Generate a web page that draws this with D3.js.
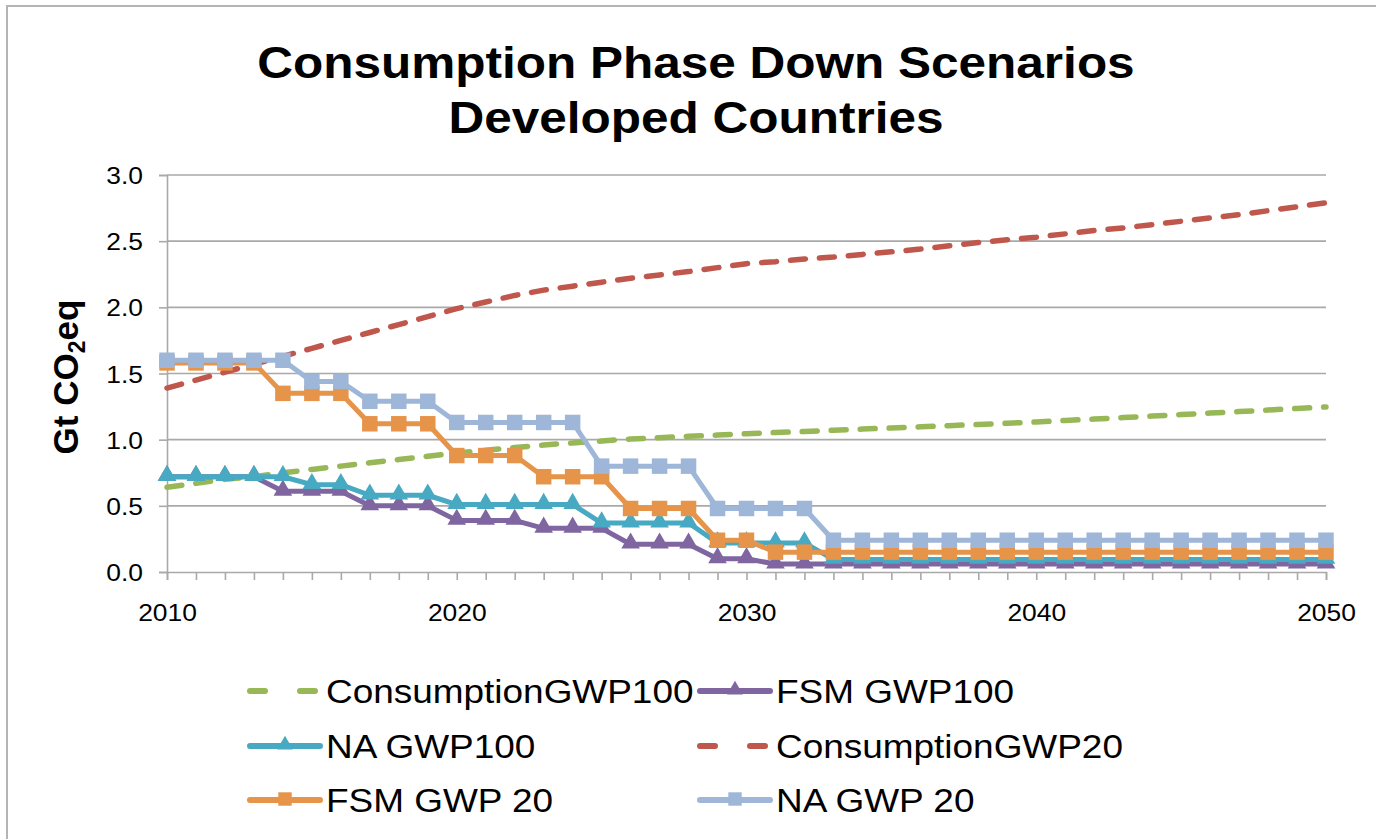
<!DOCTYPE html>
<html>
<head>
<meta charset="utf-8">
<script src="https://cdn.jsdelivr.net/npm/d3@7"></script>
<style>
  html, body { margin: 0; padding: 0; background: #fff; }
  svg { display: block; font-family: "Liberation Sans", Arial, sans-serif; }
</style>
</head>
<body>
<svg id="svg" width="1376" height="839"></svg>
<script>
// --- Data -------------------------------------------------------------------
const years = d3.range(2010, 2051);
const xTickYears = [2010, 2020, 2030, 2040, 2050];
const yTicks = [0, 0.5, 1.0, 1.5, 2.0, 2.5, 3.0];

const consumptionGWP100 = [0.64, 0.67, 0.70, 0.72, 0.75, 0.775, 0.80, 0.825, 0.85, 0.875,
  0.90, 0.92, 0.94, 0.96, 0.975, 0.99, 1.005, 1.015, 1.025, 1.035,
  1.045, 1.054, 1.062, 1.071, 1.08, 1.088, 1.097, 1.106, 1.115, 1.124,
  1.134, 1.145, 1.156, 1.167, 1.178, 1.19, 1.201, 1.212, 1.224, 1.236, 1.247];
const consumptionGWP20 = [1.39, 1.45, 1.51, 1.57, 1.63, 1.69, 1.75, 1.81, 1.87, 1.93,
  1.99, 2.04, 2.09, 2.13, 2.16, 2.19, 2.22, 2.245, 2.27, 2.30,
  2.33, 2.345, 2.365, 2.38, 2.40, 2.42, 2.44, 2.465, 2.49, 2.51,
  2.53, 2.555, 2.58, 2.60, 2.625, 2.65, 2.675, 2.70, 2.73, 2.76, 2.79];
const fsmGWP100 = [0.72, 0.72, 0.72, 0.72, 0.61, 0.61, 0.61, 0.50, 0.50, 0.50,
  0.39, 0.39, 0.39, 0.33, 0.33, 0.33, 0.21, 0.21, 0.21, 0.10,
  0.10, 0.06, 0.06, 0.06, 0.06, 0.06, 0.06, 0.06, 0.06, 0.06,
  0.06, 0.06, 0.06, 0.06, 0.06, 0.06, 0.06, 0.06, 0.06, 0.06, 0.06];
const naGWP100 = [0.72, 0.72, 0.72, 0.72, 0.72, 0.66, 0.66, 0.58, 0.58, 0.58,
  0.51, 0.51, 0.51, 0.51, 0.51, 0.37, 0.37, 0.37, 0.37, 0.22,
  0.22, 0.22, 0.22, 0.095, 0.095, 0.095, 0.095, 0.095, 0.095, 0.095,
  0.095, 0.095, 0.095, 0.095, 0.095, 0.095, 0.095, 0.095, 0.095, 0.095, 0.095];
const fsmGWP20 = [1.58, 1.58, 1.58, 1.58, 1.35, 1.35, 1.35, 1.12, 1.12, 1.12,
  0.88, 0.88, 0.88, 0.72, 0.72, 0.72, 0.48, 0.48, 0.48, 0.24,
  0.24, 0.15, 0.15, 0.15, 0.15, 0.15, 0.15, 0.15, 0.15, 0.15,
  0.15, 0.15, 0.15, 0.15, 0.15, 0.15, 0.15, 0.15, 0.15, 0.15, 0.15];
const naGWP20 = [1.60, 1.60, 1.60, 1.60, 1.60, 1.44, 1.44, 1.29, 1.29, 1.29,
  1.13, 1.13, 1.13, 1.13, 1.13, 0.80, 0.80, 0.80, 0.80, 0.48,
  0.48, 0.48, 0.48, 0.24, 0.24, 0.24, 0.24, 0.24, 0.24, 0.24,
  0.24, 0.24, 0.24, 0.24, 0.24, 0.24, 0.24, 0.24, 0.24, 0.24, 0.24];

// drawing order = legend order
const series = [
  { name: "ConsumptionGWP100", values: consumptionGWP100, color: "#98b857", dashed: true },
  { name: "FSM GWP100", values: fsmGWP100, color: "#7f66a1", marker: "triangle" },
  { name: "NA GWP100", values: naGWP100, color: "#47a9c2", marker: "triangle" },
  { name: "ConsumptionGWP20", values: consumptionGWP20, color: "#c0574c", dashed: true },
  { name: "FSM GWP 20", values: fsmGWP20, color: "#e5944a", marker: "square" },
  { name: "NA GWP 20", values: naGWP20, color: "#9eb6d8", marker: "square" }
];

// --- Layout -----------------------------------------------------------------
const svg = d3.select("#svg");
const W = 1376, H = 839;
const SX = 1.1; // source text is drawn a little wide
const gridColor = "#a9a9a9";

svg.append("rect").attr("width", W).attr("height", H).attr("fill", "#fff");
svg.append("rect")
  .attr("x", 7).attr("y", 6).attr("width", W + 20).attr("height", H + 20)
  .attr("fill", "none").attr("stroke", "#b4b4b4").attr("stroke-width", 2);

const x = d3.scaleLinear().domain([2010, 2050]).range([167, 1326]);
const y = d3.scaleLinear().domain([0, 3]).range([572, 175]);

function stretchedText(g, tx, ty, txt, size, anchor, weight) {
  return g.append("text")
    .attr("transform", `translate(${tx},${ty}) scale(${SX},1)`)
    .attr("text-anchor", anchor)
    .attr("font-size", size)
    .attr("font-weight", weight || "normal")
    .attr("fill", "#000")
    .text(txt);
}

// Title
stretchedText(svg, 696, 78, "Consumption Phase Down Scenarios", 45, "middle", "bold");
stretchedText(svg, 696, 133, "Developed Countries", 45, "middle", "bold");

// Gridlines
svg.append("g").selectAll("line")
  .data(yTicks.filter(d => d > 0)).enter()
  .append("line")
  .attr("x1", x(2010)).attr("x2", x(2050))
  .attr("y1", d => y(d)).attr("y2", d => y(d))
  .attr("stroke", gridColor).attr("stroke-width", 1.6);

// Y axis
const yAxis = svg.append("g").attr("transform", `translate(${x(2010)},0)`)
  .call(d3.axisLeft(y).tickValues(yTicks).tickSize(8).tickFormat(d3.format(".1f")));
yAxis.select(".domain").attr("stroke", gridColor).attr("stroke-width", 1.6);
yAxis.selectAll(".tick line").attr("stroke", gridColor).attr("stroke-width", 1.6);
yAxis.selectAll(".tick text").remove();
yAxis.selectAll(".tick").each(function (d) {
  stretchedText(d3.select(this), -24, 8.5, d3.format(".1f")(d), 24, "end");
});

// X axis
const xAxis = svg.append("g").attr("transform", `translate(0,${y(0)})`)
  .call(d3.axisBottom(x).tickValues(years).tickSize(8).tickFormat(""));
xAxis.select(".domain").attr("stroke", gridColor).attr("stroke-width", 1.6);
xAxis.selectAll(".tick line").attr("stroke", gridColor).attr("stroke-width", 1.6);
xAxis.selectAll(".tick text").remove();
xAxis.selectAll(".tick").filter(d => xTickYears.includes(d)).each(function (d) {
  stretchedText(d3.select(this), 0, 49, String(d), 24, "middle");
});

// Y axis title
const yt = svg.append("text")
  .attr("transform", "translate(78,377) rotate(-90)")
  .attr("text-anchor", "middle")
  .attr("font-size", 35).attr("font-weight", "bold");
yt.append("tspan").text("Gt CO");
yt.append("tspan").attr("font-size", 23).attr("dy", 7).text("2");
yt.append("tspan").attr("dy", -7).text("eq");

// --- Series -----------------------------------------------------------------
const line = d3.line().x((d, i) => x(years[i])).y(d => y(d));
const tri = d3.symbol().type(d3.symbolTriangle).size(150);
const sq = d3.symbol().type(d3.symbolSquare).size(240);

const plot = svg.append("g");
for (const s of series) {
  const g = plot.append("g");
  g.append("path")
    .attr("d", line(s.values))
    .attr("fill", "none")
    .attr("stroke", s.color)
    .attr("stroke-width", s.dashed ? 5.5 : 5)
    .attr("stroke-linejoin", "round")
    .attr("stroke-linecap", "round")
    .attr("stroke-dasharray", s.dashed ? "15,14" : null);
  if (s.marker) {
    g.selectAll("path.m")
      .data(s.values).enter()
      .append("path").attr("class", "m")
      .attr("d", s.marker === "triangle" ? tri : sq)
      .attr("transform", (d, i) => `translate(${x(years[i])},${y(d) - (s.marker === "triangle" ? 1 : 0)})`)
      .attr("fill", s.color);
  }
}

// --- Legend -----------------------------------------------------------------
const legCols = [247, 697];
const legRows = [691, 746, 800];
const legend = svg.append("g");
series.forEach((s, i) => {
  const lx = legCols[i % 2], ly = legRows[Math.floor(i / 2)];
  const g = legend.append("g").attr("transform", `translate(${lx},${ly})`);
  g.append("line")
    .attr("x1", 3).attr("x2", 73).attr("y1", 0).attr("y2", 0)
    .attr("stroke", s.color).attr("stroke-width", 6)
    .attr("stroke-linecap", "round")
    .attr("stroke-dasharray", s.dashed ? "15,35" : null);
  if (s.marker) {
    g.append("path")
      .attr("d", s.marker === "triangle" ? d3.symbol().type(d3.symbolTriangle).size(110) : d3.symbol().type(d3.symbolSquare).size(180))
      .attr("transform", "translate(38,-1)")
      .attr("fill", s.color);
  }
  stretchedText(g, 79, 12, s.name, 33.6, "start");
});
</script>
</body>
</html>
